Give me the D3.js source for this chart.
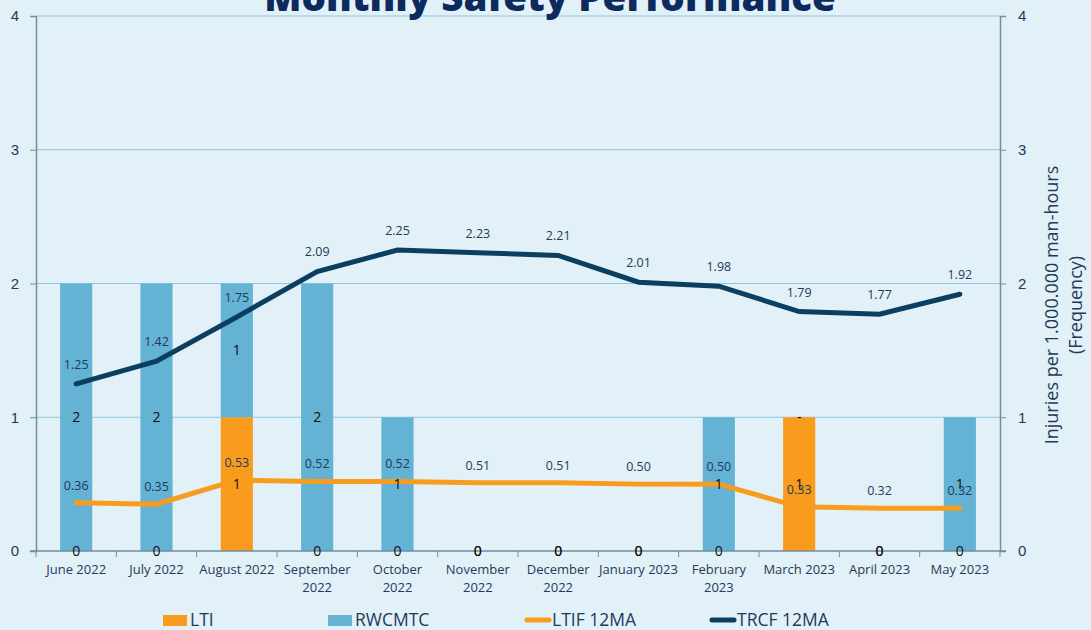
<!DOCTYPE html>
<html>
<head>
<meta charset="utf-8">
<script src="https://cdn.jsdelivr.net/npm/d3@7"></script>
<style>
  body { margin: 0; background: #e2f0f8; }
  svg { display: block; font-family: "Open Sans", sans-serif; }
</style>
</head>
<body>
<svg id="svg1" width="1091" height="630"></svg>
<script>
var width = 1091;
var height = 630;

// data
var months = ["June 2022", "July 2022", "August 2022", "September 2022", "October 2022", "November 2022",
              "December 2022", "January 2023", "February 2023", "March 2023", "April 2023", "May 2023"];
var monthLines = [["June 2022"], ["July 2022"], ["August 2022"], ["September", "2022"], ["October", "2022"],
                  ["November", "2022"], ["December", "2022"], ["January 2023"], ["February", "2023"],
                  ["March 2023"], ["April 2023"], ["May 2023"]];
var lti = [0, 0, 1, 0, 0, 0, 0, 0, 0, 1, 0, 0];
var rwcmtc = [2, 2, 1, 2, 1, 0, 0, 0, 1, 0, 0, 1];
var ltif = [0.36, 0.35, 0.53, 0.52, 0.52, 0.51, 0.51, 0.50, 0.50, 0.33, 0.32, 0.32];
var trcf = [1.25, 1.42, 1.75, 2.09, 2.25, 2.23, 2.21, 2.01, 1.98, 1.79, 1.77, 1.92];
var yTicks = [0, 1, 2, 3, 4];

var cOrange = "#f99c1e";
var cBlue = "#64b2d4";
var cNavy = "#0b3f5f";
var cText = "#1f3a5a";

var plotLeft = 36, plotRight = 1000, plotTop = 16, plotBottom = 551;

var svg = d3.select('svg');

svg.append('rect').attr('width', width).attr('height', height).attr('fill', '#e2f0f8');

var x = d3.scaleBand().domain(months).range([plotLeft, plotRight]).paddingInner(0.6).paddingOuter(0.3);
var y = d3.scaleLinear().domain([0, 4]).range([plotBottom, plotTop]);
var yR = d3.scaleLinear().domain([0, 4]).range([plotBottom, plotTop]);

// gridlines
svg.append('g').selectAll('line')
    .data(yTicks.slice(1))
    .enter().append('line')
    .attr('x1', plotLeft).attr('x2', plotRight)
    .attr('y1', function(d){ return y(d); })
    .attr('y2', function(d){ return y(d); })
    .attr('stroke', '#8cc8e2').attr('stroke-width', 1);

// stacked bars
var table = months.map(function(m, i){ return {month: m, LTI: lti[i], RWCMTC: rwcmtc[i]}; });
var stack = d3.stack().keys(["LTI", "RWCMTC"])(table);
var colors = {LTI: cOrange, RWCMTC: cBlue};

svg.append('g').selectAll('g')
    .data(stack)
    .enter().append('g')
    .attr('fill', function(d){ return colors[d.key]; })
    .selectAll('rect')
    .data(function(d){ return d; })
    .enter().append('rect')
    .attr('x', function(d){ return x(d.data.month); })
    .attr('width', x.bandwidth())
    .attr('y', function(d){ return y(d[1]); })
    .attr('height', function(d){ return y(d[0]) - y(d[1]); });

// axes
var yLeft = d3.axisLeft(y).tickValues(yTicks).tickSize(6).tickFormat(d3.format('d'));
var yRight = d3.axisRight(yR).tickValues(yTicks).tickSize(6).tickFormat(d3.format('d'));

var gl = svg.append('g').attr('transform', 'translate(' + plotLeft + ',0)').call(yLeft);
var gr = svg.append('g').attr('transform', 'translate(' + plotRight + ',0)').call(yRight);
[gl, gr].forEach(function(g){
    g.select('.domain').attr('stroke', '#6f8ea3').attr('stroke-width', 1.5);
    g.selectAll('.tick line').attr('stroke', '#6f8ea3');
    g.selectAll('.tick text').attr('fill', cText).style('font-size', '15px');
});
gl.selectAll('.tick text').attr('x', -17);
gr.selectAll('.tick text').attr('x', 18);

// x axis line and ticks between categories
svg.append('line').attr('x1', plotLeft - 6).attr('x2', plotRight + 6)
    .attr('y1', plotBottom).attr('y2', plotBottom)
    .attr('stroke', '#6f8ea3').attr('stroke-width', 1.5);
var step = (plotRight - plotLeft) / months.length;
svg.append('g').selectAll('line')
    .data(d3.range(months.length + 1))
    .enter().append('line')
    .attr('x1', function(i){ return plotLeft + i * step; })
    .attr('x2', function(i){ return plotLeft + i * step; })
    .attr('y1', plotBottom).attr('y2', plotBottom + 6)
    .attr('stroke', '#6f8ea3');

// x labels
var xl = svg.append('g').selectAll('text')
    .data(months)
    .enter().append('text')
    .attr('text-anchor', 'middle')
    .attr('fill', cText)
    .style('font-size', '13px');
xl.each(function(m, i){
    var t = d3.select(this);
    monthLines[i].forEach(function(line, j){
        t.append('tspan')
            .attr('x', x(m) + x.bandwidth() / 2)
            .attr('y', 574 + j * 18)
            .text(line);
    });
});

// lines
var line = d3.line()
    .x(function(d, i){ return x(months[i]) + x.bandwidth() / 2; })
    .y(function(d){ return yR(d); });

svg.append('path').datum(ltif)
    .attr('d', line).attr('fill', 'none')
    .attr('stroke', cOrange).attr('stroke-width', 5).attr('stroke-linecap', 'round');
svg.append('path').datum(trcf)
    .attr('d', line).attr('fill', 'none')
    .attr('stroke', cNavy).attr('stroke-width', 5).attr('stroke-linecap', 'round');

// bar labels (on top of the lines)
svg.append('g').selectAll('g')
    .data(stack)
    .enter().append('g')
    .selectAll('text')
    .data(function(d){ return d; })
    .enter().append('text')
    .attr('x', function(d){ return x(d.data.month) + x.bandwidth() / 2; })
    .attr('y', function(d){ return (y(d[0]) + y(d[1])) / 2; })
    .attr('dy', '0.36em')
    .attr('text-anchor', 'middle')
    .attr('fill', '#111')
    .style('font-size', '14px')
    .text(function(d){
        var v = d[1] - d[0];
        return (v === 0 && d[0] > 0) ? '-' : v;
    });

// line labels
function pointLabels(values, off) {
    svg.append('g').selectAll('text')
        .data(values)
        .enter().append('text')
        .attr('x', function(d, i){ return x(months[i]) + x.bandwidth() / 2; })
        .attr('y', function(d){ return yR(d) - off; })
        .attr('text-anchor', 'middle')
        .attr('fill', cText)
        .style('font-size', '12.5px')
        .text(function(d){ return d3.format('.2f')(d); });
}
pointLabels(ltif, 13);
pointLabels(trcf, 15);

// title
svg.append('text')
    .attr('x', 550).attr('y', 11)
    .attr('text-anchor', 'middle')
    .attr('fill', '#0c2a5e')
    .style('font-size', '38.5px').style('font-weight', 800)
    .text('Monthly Safety Performance');

// right axis title
var rt = svg.append('text')
    .attr('transform', 'translate(1058,305) rotate(-90)')
    .attr('text-anchor', 'middle')
    .attr('fill', cText)
    .style('font-size', '18px');
rt.append('tspan').attr('x', 0).attr('y', 0).text('Injuries per 1.000.000 man-hours');
rt.append('tspan').attr('x', 0).attr('y', 24).text('(Frequency)');

// legend
var legendItems = [
    {label: 'LTI', color: cOrange, type: 'rect', x: 163},
    {label: 'RWCMTC', color: cBlue, type: 'rect', x: 328},
    {label: 'LTIF 12MA', color: cOrange, type: 'line', x: 525},
    {label: 'TRCF 12MA', color: cNavy, type: 'line', x: 710}
];
var lg = svg.append('g').selectAll('g')
    .data(legendItems)
    .enter().append('g')
    .attr('transform', function(d){ return 'translate(' + d.x + ',620)'; });
lg.filter(function(d){ return d.type === 'rect'; }).append('rect')
    .attr('x', 0).attr('y', -5).attr('width', 24).attr('height', 11)
    .attr('fill', function(d){ return d.color; });
lg.filter(function(d){ return d.type === 'line'; }).append('line')
    .attr('x1', 2).attr('x2', 24).attr('y1', 0).attr('y2', 0)
    .attr('stroke', function(d){ return d.color; })
    .attr('stroke-width', 5).attr('stroke-linecap', 'round');
lg.append('text')
    .attr('x', 27).attr('dy', '0.36em')
    .attr('fill', cText)
    .style('font-size', '17.5px')
    .text(function(d){ return d.label; });
</script>
</body>
</html>
